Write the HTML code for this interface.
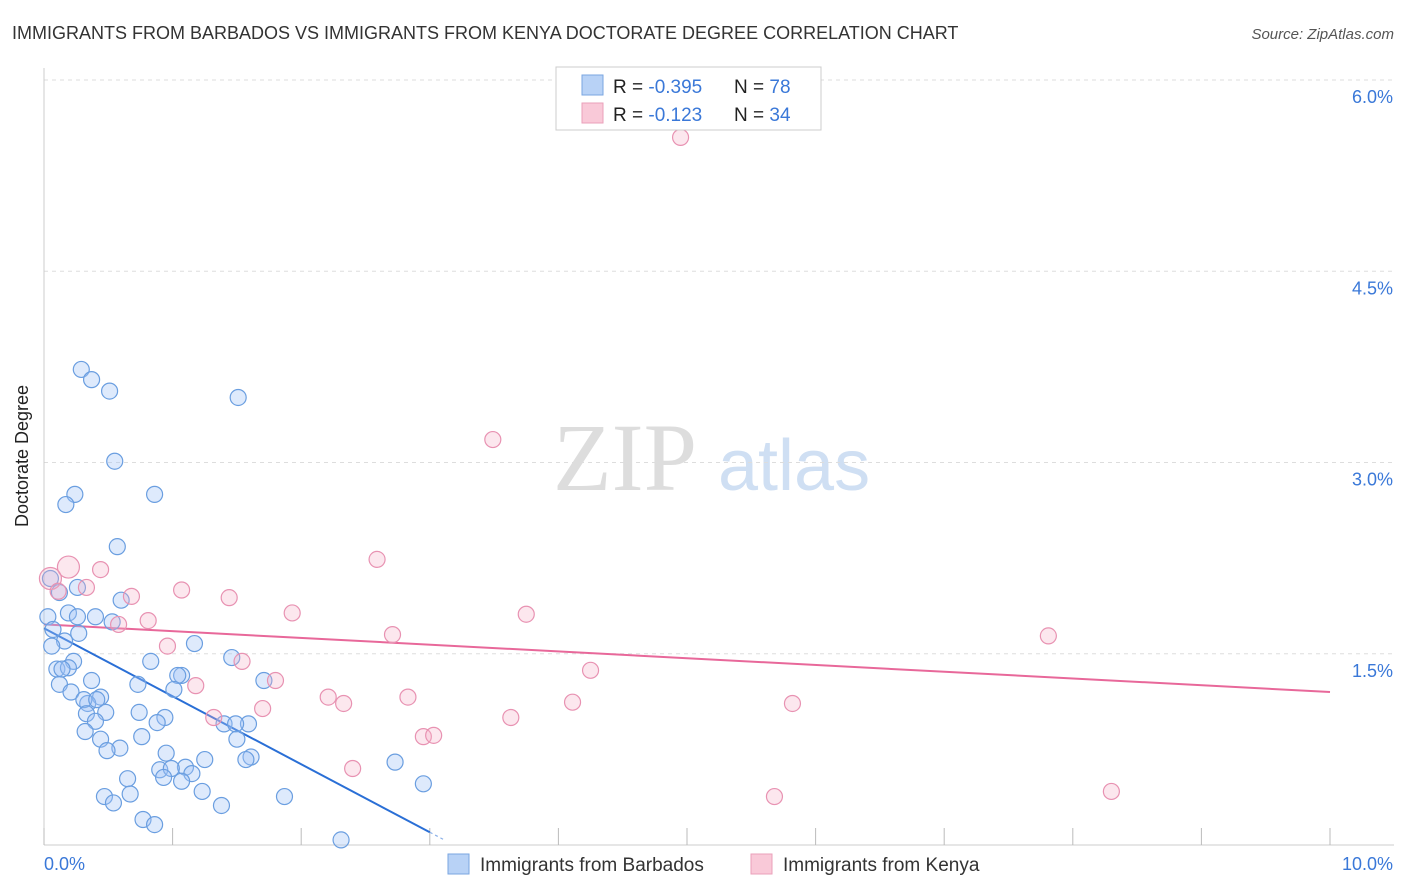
<!DOCTYPE html>
<html><head><meta charset="utf-8"><style>
body{margin:0;background:#fff;font-family:"Liberation Sans",sans-serif;}
svg{display:block}
</style></head><body>
<svg id="chart" width="1406" height="892" viewBox="0 0 1406 892" xmlns="http://www.w3.org/2000/svg">
<text x="12" y="39" font-size="18" fill="#333">IMMIGRANTS FROM BARBADOS VS IMMIGRANTS FROM KENYA DOCTORATE DEGREE CORRELATION CHART</text>
<text x="1394" y="39" font-size="15" fill="#555" font-style="italic" text-anchor="end">Source: ZipAtlas.com</text>
<text x="28" y="456" font-size="18" fill="#222" transform="rotate(-90 28 456)" text-anchor="middle">Doctorate Degree</text>
<g>
<text x="553" y="490" font-size="96" font-family="Liberation Serif, serif" fill="#ddd">ZIP</text>
<text x="718" y="490" font-size="72" fill="#cfdff3">atlas</text>
</g>
<g id="grid"></g><g id="axes"></g><g id="lines"></g><g id="points"></g>
<g>
<rect x="556" y="67" width="265" height="63" fill="#fff" stroke="#ccc"/>
<rect x="582" y="75" width="21" height="20" fill="#b8d2f6" stroke="#7aa6e0"/>
<rect x="582" y="103" width="21" height="20" fill="#f9c9d8" stroke="#eaa0ba"/>
<text x="613" y="93" font-size="19" fill="#222">R = <tspan fill="#3a78d8">-0.395</tspan><tspan x="734">N = </tspan><tspan fill="#3a78d8">78</tspan></text>
<text x="613" y="121" font-size="19" fill="#222">R =  <tspan fill="#3a78d8">-0.123</tspan><tspan x="734">N = </tspan><tspan fill="#3a78d8">34</tspan></text>
</g>
<g>
<rect x="448" y="854" width="21" height="20" fill="#b8d2f6" stroke="#7aa6e0"/>
<text x="480" y="871" font-size="19" fill="#333">Immigrants from Barbados</text>
<rect x="751" y="854" width="21" height="20" fill="#f9c9d8" stroke="#eaa0ba"/>
<text x="783" y="871" font-size="19" fill="#333">Immigrants from Kenya</text>
</g>
</svg>
<script>
const yTicks=[1.5,3.0,4.5,6.0];
const yTickLabels=["1.5%","3.0%","4.5%","6.0%"];
const xTicks=[0,1,2,3,4,5,6,7,8,9,10];
const xEndLabels=["0.0%","10.0%"];
const barbadosX=[0.29,0.37,0.51,1.51,0.55,0.24,0.86,0.17,0.57,0.05,0.26,0.12,0.60,0.19,0.40,0.53,0.03,0.07,0.27,1.17,0.16,0.06,0.83,1.46,0.23,0.10,0.19,1.07,1.04,0.37,1.71,0.73,0.12,1.01,0.21,0.44,0.34,0.31,0.41,0.74,0.48,0.33,0.94,0.40,0.88,1.40,1.59,1.49,0.32,0.76,0.44,1.50,0.59,0.49,0.95,1.61,1.57,1.25,2.73,0.90,1.10,0.99,1.15,0.65,0.93,1.07,2.95,1.23,0.67,0.47,0.54,1.87,1.38,0.77,0.86,2.31,0.14,0.26];
const barbadosY=[3.73,3.65,3.56,3.51,3.01,2.75,2.75,2.67,2.34,2.09,2.02,1.98,1.92,1.82,1.79,1.75,1.79,1.69,1.66,1.58,1.60,1.56,1.44,1.47,1.44,1.38,1.39,1.33,1.33,1.29,1.29,1.26,1.26,1.22,1.20,1.16,1.11,1.14,1.14,1.04,1.04,1.03,1.00,0.97,0.96,0.95,0.95,0.95,0.89,0.85,0.83,0.83,0.76,0.74,0.72,0.69,0.67,0.67,0.65,0.59,0.61,0.60,0.56,0.52,0.53,0.50,0.48,0.42,0.40,0.38,0.33,0.38,0.31,0.20,0.16,0.04,1.38,1.79];
const kenyaX=[4.95,3.49,2.59,0.19,0.05,0.44,0.33,0.68,1.07,1.44,0.11,1.93,3.75,0.81,0.58,2.71,7.81,0.96,1.54,4.25,1.80,1.18,2.21,2.83,2.33,4.11,5.82,1.70,3.63,1.32,2.95,3.03,2.40,5.68,8.30];
const kenyaY=[5.55,3.18,2.24,2.18,2.09,2.16,2.02,1.95,2.00,1.94,1.99,1.82,1.81,1.76,1.73,1.65,1.64,1.56,1.44,1.37,1.29,1.25,1.16,1.16,1.11,1.12,1.11,1.07,1.00,1.00,0.85,0.86,0.60,0.38,0.42];
const barbadosTrend=[1.70,0.10]; // y at x=0 and x=3.0
const barbadosTrendX=[0,3.0];
const kenyaTrend=[1.73,1.20];
const kenyaTrendX=[0,10];

const NS="http://www.w3.org/2000/svg";
const X0=44,X1=1330,Y0=845,YPER=127.5;
const xs=v=>X0+(X1-X0)*v/10;
const ys=v=>Y0-YPER*v;
function mk(tag,attrs,parent){const e=document.createElementNS(NS,tag);for(const k in attrs)e.setAttribute(k,attrs[k]);parent.appendChild(e);return e;}
const grid=document.getElementById('grid'),axes=document.getElementById('axes'),lines=document.getElementById('lines'),pts=document.getElementById('points');
yTicks.forEach((t,i)=>{
 const l=mk('line',{x1:X0,x2:1394,y1:ys(t),y2:ys(t),stroke:'#ddd','stroke-dasharray':'4,4'},grid);
 
 
 const tx=mk('text',{x:1393,y:ys(t)+23,'font-size':18,fill:'#3a78d8','text-anchor':'end'},axes);
 tx.textContent=yTickLabels[i];
 
 
});
const ya=mk('line',{x1:X0,x2:X0,y1:68,y2:Y0,stroke:'#ccc'},axes);


const xa=mk('line',{x1:X0,x2:1394,y1:Y0,y2:Y0,stroke:'#ccc'},axes);


xTicks.forEach(t=>{
 const l=mk('line',{x1:xs(t),x2:xs(t),y1:828,y2:Y0,stroke:'#bbb'},axes);
 
 
});
const xl0=mk('text',{x:44,y:870,'font-size':18,fill:'#3a78d8'},axes);xl0.textContent=xEndLabels[0];


const xl1=mk('text',{x:1393,y:870,'font-size':18,fill:'#3a78d8','text-anchor':'end'},axes);xl1.textContent=xEndLabels[1];


barbadosX.forEach((v,i)=>{
 const c=mk('circle',{cx:xs(v),cy:ys(barbadosY[i]),r:8,fill:'rgba(160,195,245,0.35)',stroke:'#6a9ee0','stroke-width':1.2},pts);
 
 
});
kenyaX.forEach((v,i)=>{
 const big=i===3||i===4;
 const c=mk('circle',{cx:xs(v),cy:ys(kenyaY[i]),r:big?11:8,fill:'rgba(245,175,200,0.3)',stroke:'#e892b2','stroke-width':1.2},pts);
 
 
});
const bl=mk('line',{x1:xs(barbadosTrendX[0]),y1:ys(barbadosTrend[0]),x2:xs(barbadosTrendX[1]),y2:ys(barbadosTrend[1]),stroke:'#2a6fd6','stroke-width':2},lines);


const slope=(barbadosTrend[1]-barbadosTrend[0])/(barbadosTrendX[1]-barbadosTrendX[0]);
const xe=barbadosTrendX[1]+0.12;
const bd=mk('line',{x1:xs(barbadosTrendX[1]),y1:ys(barbadosTrend[1]),x2:xs(xe),y2:ys(barbadosTrend[0]+slope*xe),stroke:'#8ab0e8','stroke-width':1.2,'stroke-dasharray':'3,3'},lines);


const kl=mk('line',{x1:xs(kenyaTrendX[0]),y1:ys(kenyaTrend[0]),x2:xs(kenyaTrendX[1]),y2:ys(kenyaTrend[1]),stroke:'#e8689a','stroke-width':2},lines);


</script>
</body></html>
